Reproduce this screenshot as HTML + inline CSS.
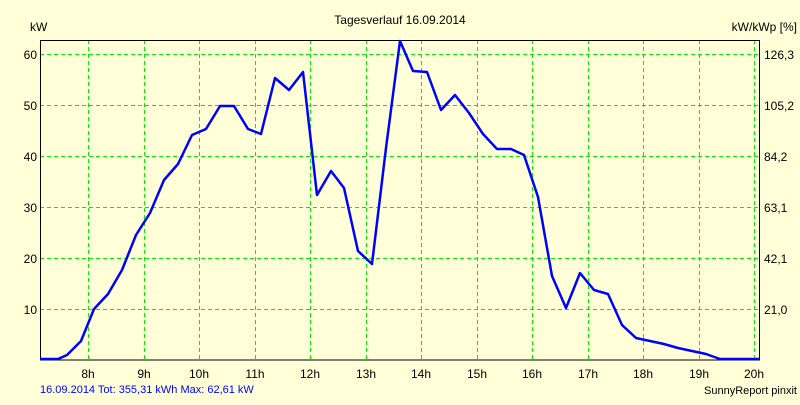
<!DOCTYPE html><html><head><meta charset="utf-8"><style>body{margin:0;background:#ffffd8}</style></head><body>
<svg width="800" height="400" xmlns="http://www.w3.org/2000/svg" font-family="Liberation Sans, sans-serif" font-size="12">
<rect width="800" height="400" fill="#ffffd8"/>
<g stroke="#00ee00" stroke-dasharray="4,3" stroke-width="1">
<line x1="40" x2="760" y1="54.5" y2="54.5"/><line x1="40" x2="760" y1="105.5" y2="105.5"/><line x1="40" x2="760" y1="156.5" y2="156.5"/><line x1="40" x2="760" y1="207.5" y2="207.5"/><line x1="40" x2="760" y1="258.5" y2="258.5"/><line x1="40" x2="760" y1="309.5" y2="309.5"/>
<line y1="40" y2="360" x1="88.5" x2="88.5"/><line y1="40" y2="360" x1="144.5" x2="144.5"/><line y1="40" y2="360" x1="199.5" x2="199.5"/><line y1="40" y2="360" x1="255.5" x2="255.5"/><line y1="40" y2="360" x1="310.5" x2="310.5"/><line y1="40" y2="360" x1="366.5" x2="366.5"/><line y1="40" y2="360" x1="421.5" x2="421.5"/><line y1="40" y2="360" x1="477.5" x2="477.5"/><line y1="40" y2="360" x1="532.5" x2="532.5"/><line y1="40" y2="360" x1="588.5" x2="588.5"/><line y1="40" y2="360" x1="643.5" x2="643.5"/><line y1="40" y2="360" x1="699.5" x2="699.5"/><line y1="40" y2="360" x1="754.5" x2="754.5"/>
</g>
<rect x="40.5" y="40.5" width="719" height="319.5" fill="none" stroke="#000" stroke-width="1"/>
<polyline fill="none" stroke="#0000ff" stroke-width="2.5" stroke-linejoin="round" points="40,359 58,359 67,355 81,341 94,309 108,294 122,270 136,235 150,213 164,180 178,164 192,135 206,129 220,106 234,106 248,129 261,134 275,78 289,90 303,72 317,195 331,171 344,188 358,251 372,264 386,148 400,41 413,71 427,72 441,110 455,95 469,113 483,134 497,149 511,149 524,155 538,197 552,276 566,308 580,273 594,290 608,294 622,325 636,338 650,341 664,344 678,348 692,351 706,354 720,359 760,359"/>
<g fill="#000" text-anchor="end"><text x="37" y="59">60</text><text x="37" y="110">50</text><text x="37" y="161">40</text><text x="37" y="212">30</text><text x="37" y="263">20</text><text x="37" y="314">10</text></g>
<g fill="#000"><text x="764" y="59">126,3</text><text x="764" y="110">105,2</text><text x="764" y="161">84,2</text><text x="764" y="212">63,1</text><text x="764" y="263">42,1</text><text x="764" y="314">21,0</text></g>
<g fill="#000" text-anchor="middle"><text x="88" y="378">8h</text><text x="144" y="378">9h</text><text x="199" y="378">10h</text><text x="255" y="378">11h</text><text x="310" y="378">12h</text><text x="366" y="378">13h</text><text x="421" y="378">14h</text><text x="477" y="378">15h</text><text x="532" y="378">16h</text><text x="588" y="378">17h</text><text x="643" y="378">18h</text><text x="699" y="378">19h</text><text x="754" y="378">20h</text></g>
<text x="30" y="31" fill="#000">kW</text>
<text x="400" y="24" fill="#000" text-anchor="middle">Tagesverlauf 16.09.2014</text>
<text x="797" y="31" fill="#000" text-anchor="end">kW/kWp [%]</text>
<text x="40" y="393" fill="#0000ff" font-size="11">16.09.2014 Tot: 355,31 kWh Max: 62,61 kW</text>
<text x="797" y="394" fill="#000" font-size="11" text-anchor="end">SunnyReport pinxit</text>
</svg></body></html>
